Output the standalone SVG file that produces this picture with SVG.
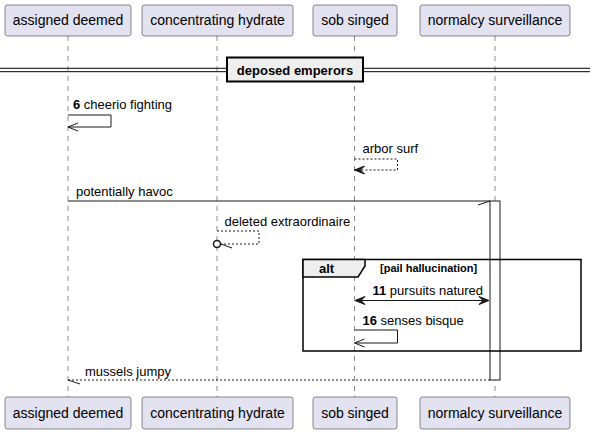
<svg xmlns="http://www.w3.org/2000/svg" width="596" height="434" viewBox="0 0 596 434">
<style>
.p rect{fill:#E2E2F0;stroke:#181818;stroke-width:0.5}
.p text{font-family:"Liberation Sans",Arial,sans-serif;font-size:14px;fill:#000;text-anchor:middle}
.life{stroke:#181818;stroke-width:0.5;stroke-dasharray:5,5;fill:none}
.m{font-family:"Liberation Sans",Arial,sans-serif;font-size:13px;fill:#000}
.b{font-weight:bold}
.s11{font-size:11px}
.ln{stroke:#181818;stroke-width:1;fill:none}
.dl{stroke:#181818;stroke-width:1;fill:none;stroke-dasharray:2,2}
</style>
<rect width="596" height="434" fill="#fff"/>
<g id="lifelines">
<line class="life" x1="68" y1="36" x2="68" y2="397"/>
<line class="life" x1="217" y1="36" x2="217" y2="397"/>
<line class="life" x1="354.5" y1="36" x2="354.5" y2="397"/>
<line class="life" x1="495" y1="36" x2="495" y2="397"/>
</g>
<g id="activation">
<rect x="490" y="201" width="10" height="179" fill="#fff" stroke="#181818" stroke-width="1"/>
</g>
<g id="p1" class="p"><rect x="5" y="5" width="126" height="31" rx="2.5"/><text x="68" y="25">assigned deemed</text></g>
<g id="p2" class="p"><rect x="142" y="5" width="151" height="31" rx="2.5"/><text x="217.5" y="25">concentrating hydrate</text></g>
<g id="p3" class="p"><rect x="313" y="5" width="84" height="31" rx="2.5"/><text x="355" y="25">sob singed</text></g>
<g id="p4" class="p"><rect x="420" y="5" width="150" height="31" rx="2.5"/><text x="495" y="25">normalcy surveillance</text></g>
<g id="p1b" class="p"><rect x="5" y="397" width="126" height="32" rx="2.5"/><text x="68" y="418">assigned deemed</text></g>
<g id="p2b" class="p"><rect x="142" y="397" width="151" height="32" rx="2.5"/><text x="217.5" y="418">concentrating hydrate</text></g>
<g id="p3b" class="p"><rect x="313" y="397" width="84" height="32" rx="2.5"/><text x="355" y="418">sob singed</text></g>
<g id="p4b" class="p"><rect x="420" y="397" width="150" height="32" rx="2.5"/><text x="495" y="418">normalcy surveillance</text></g>
<g id="divider">
<line x1="0" y1="68.3" x2="590" y2="68.3" stroke="#000" stroke-width="1"/>
<line x1="0" y1="71.7" x2="590" y2="71.7" stroke="#000" stroke-width="1"/>
<rect x="227" y="57.5" width="136" height="24" fill="#EEEEEE" stroke="#000" stroke-width="2"/>
<text class="m b" x="295" y="74.5" text-anchor="middle">deposed emperors</text>
</g>
<g id="alt">
<rect x="303" y="259.5" width="278" height="91.5" fill="none" stroke="#000" stroke-width="1.5"/>
<path d="M303,259.5 H365 V266 L358,277 H303 Z" fill="#EEEEEE" stroke="#000" stroke-width="1.5"/>
<text class="m b" x="319" y="273">alt</text>
<text class="m b s11" x="380" y="271.5">[pail hallucination]</text>
</g>
<g id="connectors">
<path class="ln" d="M68,115 H111 V127 H68"/>
<path class="ln" d="M78,123 L68,127 L78,131"/>
<text class="m" x="73" y="108.5"><tspan class="b">6</tspan> cheerio fighting</text>
<path class="dl" d="M354.5,159 H397.5 V170 H354.5"/>
<path d="M364.5,166 L354.5,170 L364.5,174 L360.5,170 Z" fill="#181818" stroke="#181818" stroke-width="1"/>
<text class="m" x="362.5" y="152.5">arbor surf</text>
<line class="ln" x1="68" y1="201" x2="490" y2="201"/>
<line class="ln" x1="490" y1="201" x2="478" y2="205"/>
<text class="m" x="76" y="196">potentially havoc</text>
<path class="dl" d="M217,231 H259 V244 H221"/>
<circle cx="217" cy="244" r="3.5" fill="#fff" stroke="#181818" stroke-width="1.5"/>
<line class="ln" x1="221" y1="244" x2="232" y2="248"/>
<text class="m" x="224.5" y="226">deleted extraordinaire</text>
<line class="ln" x1="355" y1="300.5" x2="489" y2="300.5"/>
<path d="M365,296.5 L355,300.5 L365,304.5 L361,300.5 Z" fill="#181818" stroke="#181818" stroke-width="1"/>
<path d="M479,296.5 L489,300.5 L479,304.5 L483,300.5 Z" fill="#181818" stroke="#181818" stroke-width="1"/>
<text class="m" x="372.5" y="295"><tspan class="b">11</tspan> pursuits natured</text>
<path class="ln" d="M354.5,330 H397.5 V343 H354.5"/>
<path class="ln" d="M364.5,339 L354.5,343 L364.5,347"/>
<text class="m" x="362.5" y="325"><tspan class="b">16</tspan> senses bisque</text>
<line class="dl" x1="490" y1="380" x2="68" y2="380"/>
<line class="ln" x1="68" y1="380" x2="80" y2="384"/>
<text class="m" x="85" y="375.5">mussels jumpy</text>
</g>
</svg>
